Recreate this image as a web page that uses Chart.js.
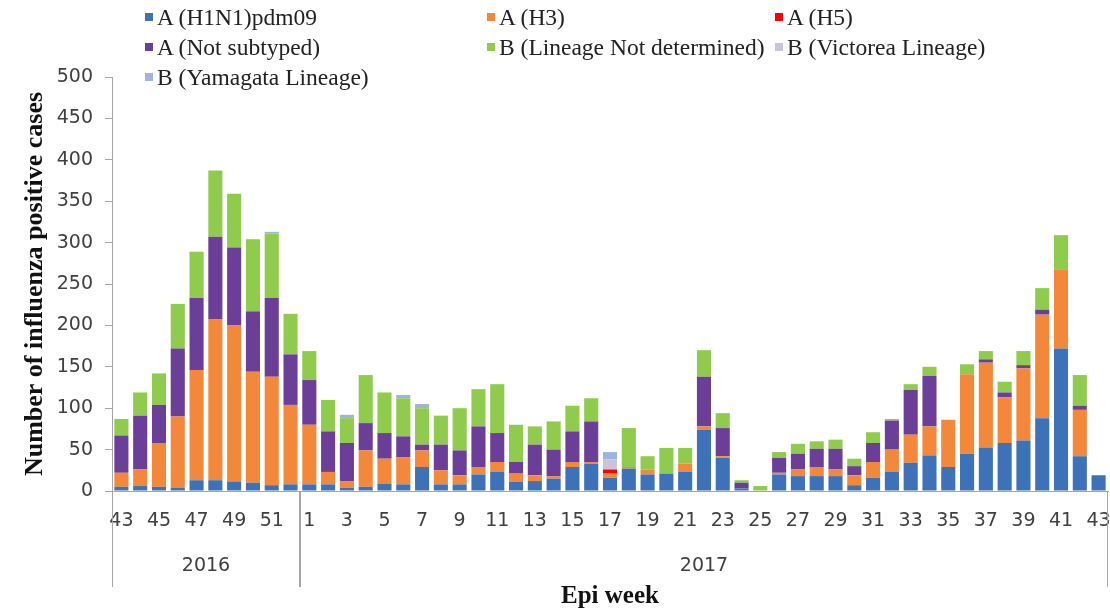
<!DOCTYPE html>
<html>
<head>
<meta charset="utf-8">
<script src="https://cdn.jsdelivr.net/npm/chart.js@4.4.1/dist/chart.umd.min.js"></script>
<style>
  body { margin: 0; background: #fff; }
  #wrap { position: relative; width: 1110px; height: 612px; }
  #legend {
    position: absolute; left: 145px; top: 2px;
    display: grid; grid-template-columns: 342px 288px auto;
    grid-auto-rows: 30px;
    font-family: "Liberation Serif", serif; font-size: 23.5px; color: #222;
  }
  .item { display: flex; align-items: center; white-space: nowrap; }
  .box { width: 8px; height: 8px; margin-right: 4px; }
</style>
</head>
<body>
<div id="wrap">
  <canvas id="fluChart" width="1110" height="612"></canvas>
  <div id="legend"></div>
</div>
<script>
// epi weeks: 2016 wk 43-52, then 2017 wk 1-43
const weekLabels = ['43','44','45','46','47','48','49','50','51','52',
  '1','2','3','4','5','6','7','8','9','10','11','12','13','14','15','16','17','18','19','20',
  '21','22','23','24','25','26','27','28','29','30','31','32','33','34','35','36','37','38','39','40',
  '41','42','43'];
const yearLabels = ['2016', '2017'];
const yearWeekCounts = [10, 43];

const h1n1 = [5,6,5,4,13,13,11,10,7,8,
  8,8,4,5,9,8,29,8,8,20,23,11,12,15,29,33,16,27,20,21,
  23,74,40,3,0,20,18,18,18,7,16,23,34,43,29,45,52,58,61,88,
  172,42,19];
const h3 = [17,20,53,86,133,194,189,134,131,96,
  72,15,8,44,30,33,20,17,11,9,12,10,7,3,6,2,5,2,6,0,
  10,4,2,0,0,2,8,11,8,12,19,27,34,35,57,96,103,55,87,125,
  95,56,0];
const h5 = [0,0,0,0,0,0,0,0,0,0,
  0,0,0,0,0,0,0,0,0,0,0,0,0,0,0,0,5,0,0,0,
  0,0,0,0,0,0,0,0,0,0,0,0,0,0,0,0,0,0,0,0,
  0,0,0];
const notSubtyped = [45,65,46,82,87,100,94,73,95,61,
  54,49,46,33,31,25,7,31,30,49,35,14,37,32,37,49,0,0,0,0,
  0,60,34,7,0,18,19,22,25,11,23,35,54,61,0,0,4,6,4,6,
  0,5,0];
const lineageNd = [20,28,38,54,56,80,65,87,78,49,
  35,38,30,58,49,46,44,35,51,45,59,45,22,34,31,28,0,47,16,31,
  19,32,18,3,6,7,12,9,11,9,13,2,7,11,0,12,10,13,17,26,
  42,37,0];
const victoria = [0,0,0,0,0,0,0,0,0,0,
  0,0,0,0,0,0,0,0,0,0,0,0,0,0,0,0,12,0,0,0,
  0,0,0,0,0,0,0,0,0,0,0,0,0,0,0,0,0,0,0,0,
  0,0,0];
const yamagata = [0,0,0,0,0,0,0,0,2,0,
  0,0,4,0,0,4,5,0,0,0,0,0,0,0,0,0,9,0,0,0,
  0,0,0,0,0,0,0,0,0,0,0,0,0,0,0,0,0,0,0,0,
  0,0,0];

const seriesNames = ['A (H1N1)pdm09', 'A (H3)', 'A (H5)', 'A (Not subtyped)',
  'B (Lineage Not determined)', 'B (Victorea Lineage)', 'B (Yamagata Lineage)'];
const seriesData = [h1n1, h3, h5, notSubtyped, lineageNd, victoria, yamagata];
const seriesColors = ['#3d72b8', '#f3873a', '#ff0000', '#6b3f98', '#8fcb4c', '#cbc3dc', '#9db5dc'];

// legend as html, 3 columns like the original
const legendEl = document.getElementById('legend');
seriesNames.forEach((name, i) => {
  legendEl.innerHTML += `<div class="item"><span class="box" style="background:${seriesColors[i]}"></span>${name}</div>`;
});

// draws the year groups under the week labels
const yearGroupPlugin = {
  id: 'yearGroups',
  afterDraw(chart) {
    const ctx = chart.ctx;
    const x = chart.scales.x;
    const bottom = chart.chartArea.bottom;
    const half = (x.getPixelForValue(1) - x.getPixelForValue(0)) / 2;
    ctx.save();
    ctx.strokeStyle = '#a6a6a6';
    ctx.lineWidth = 1;
    ctx.fillStyle = '#404040';
    ctx.font = '19px "DejaVu Sans"';
    ctx.textAlign = 'center';
    ctx.textBaseline = 'middle';
    let start = 0;
    yearLabels.forEach((year, i) => {
      const end = start + yearWeekCounts[i] - 1;
      const x0 = Math.round(x.getPixelForValue(start) - half) + 0.5;
      const x1 = Math.round(x.getPixelForValue(end) + half) - 0.5;
      ctx.beginPath();
      ctx.moveTo(x0, bottom);
      ctx.lineTo(x0, bottom + 96);
      ctx.moveTo(x1, bottom);
      ctx.lineTo(x1, bottom + 96);
      ctx.stroke();
      ctx.fillText(year, (x0 + x1) / 2, bottom + 75);
      start = end + 1;
    });
    ctx.restore();
  }
};

new Chart(document.getElementById('fluChart'), {
  type: 'bar',
  data: {
    labels: weekLabels,
    datasets: seriesNames.map((name, i) => ({
      label: name,
      data: seriesData[i],
      backgroundColor: seriesColors[i],
      borderWidth: 0,
      barPercentage: 0.75,
      categoryPercentage: 1.0
    }))
  },
  options: {
    responsive: false,
    animation: false,
    layout: { padding: { top: 77, right: 2, left: 0, bottom: 0 } },
    plugins: {
      legend: { display: false },
      tooltip: { enabled: false }
    },
    scales: {
      x: {
        stacked: true,
        grid: { display: false, drawTicks: false },
        border: { color: '#a6a6a6' },
        ticks: {
          autoSkip: false,
          maxRotation: 0,
          padding: 19,
          color: '#404040',
          font: { family: 'DejaVu Sans', size: 19 },
          callback: (value, index) => index % 2 === 0 ? weekLabels[index] : ''
        },
        title: {
          display: true,
          text: 'Epi week',
          color: '#111',
          font: { family: 'Liberation Serif', size: 25, weight: 'bold' },
          padding: { top: 0, bottom: 0 }
        },
        afterFit: (scale) => {
          scale.height = 121;
          // last label may hang past the edge, like in the original
          scale.paddingLeft = 0;
          scale.paddingRight = 0;
        }
      },
      y: {
        stacked: true,
        min: 0,
        max: 500,
        grid: { display: true, drawOnChartArea: false, drawTicks: true, tickLength: 7, color: '#a6a6a6' },
        border: { color: '#a6a6a6' },
        ticks: {
          stepSize: 50,
          padding: 12,
          color: '#404040',
          font: { family: 'DejaVu Sans', size: 19 }
        },
        title: {
          display: true,
          text: 'Number of influenza positive cases',
          color: '#111',
          font: { family: 'Liberation Serif', size: 26, weight: 'bold' },
          padding: { top: 20, bottom: 0 }
        },
        afterFit: (scale) => { scale.width = 112; }
      }
    }
  },
  plugins: [yearGroupPlugin]
});
</script>
</body>
</html>
